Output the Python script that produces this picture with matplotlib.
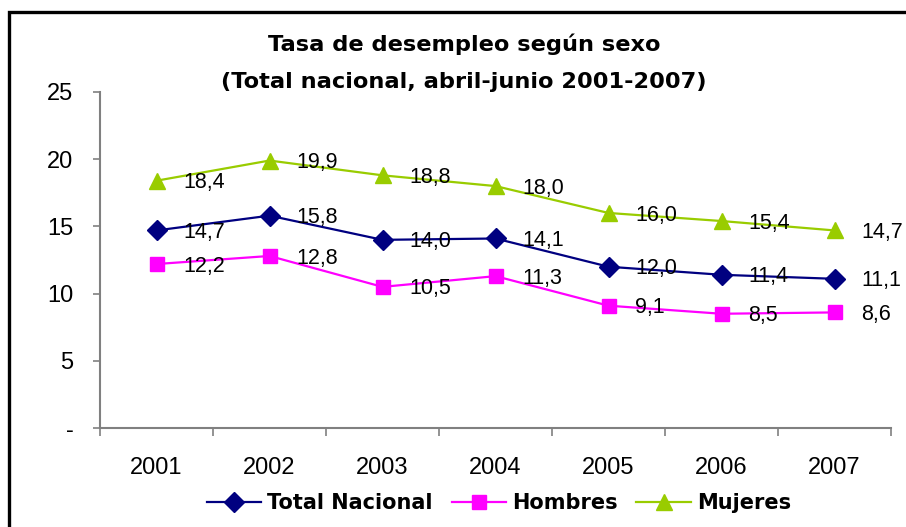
import matplotlib
matplotlib.use("Agg")
import matplotlib.pyplot as plt
from matplotlib.patches import Rectangle
import numpy as np

plt.rcParams["font.family"] = ["Liberation Sans", "DejaVu Sans"]

# ─── Datos ───────────────────────────────────────────────────────────────────
years = ["2001", "2002", "2003", "2004", "2005", "2006", "2007"]
total_nacional = [14.7, 15.8, 14.0, 14.1, 12.0, 11.4, 11.1]
hombres = [12.2, 12.8, 10.5, 11.3, 9.1, 8.5, 8.6]
mujeres = [18.4, 19.9, 18.8, 18.0, 16.0, 15.4, 14.7]
y_ticks = [0, 5, 10, 15, 20, 25]
y_ticklabels = ["-", "5", "10", "15", "20", "25"]

W, H = 906, 527
fig = plt.figure(figsize=(W / 100, H / 100), dpi=100)

# marco del gráfico (abierto a la derecha y abajo, recortado)
fig.patches.append(Rectangle((9 / W, -0.1), 1.2, 1.1 - 12 / H,
                             transform=fig.transFigure, fill=False,
                             edgecolor="black", linewidth=2.4))

ax = fig.add_axes([100 / W, 1 - 428 / H, 791 / W, 336 / H])
x = np.arange(len(years))

series = [
    (total_nacional, "Total Nacional", "#000080", "D", 10),
    (hombres, "Hombres", "#FF00FF", "s", 10),
    (mujeres, "Mujeres", "#99CC00", "^", 12),
]
for vals, label, color, marker, ms in series:
    ax.plot(x, vals, color=color, linewidth=1.6, marker=marker,
            markersize=ms, markeredgecolor=color, label=label, zorder=3)
    for xi, v in zip(x, vals):
        ax.annotate(f"{v:.1f}".replace(".", ","), (xi, v),
                    xytext=(19, -1.5), textcoords="offset points",
                    ha="left", va="center", fontsize=15.5, color="black",
                    zorder=4)

ax.set_xlim(-0.5, len(years) - 0.5)
ax.set_ylim(0, 25)
ax.set_yticks(y_ticks)
ax.set_yticklabels(y_ticklabels, fontsize=17)
ax.set_xticks(x)
ax.set_xticklabels(years, fontsize=17)
ax.set_xticks(np.arange(-0.5, len(years)), minor=True)
ax.tick_params(axis="x", which="major", length=0, pad=21)
ax.tick_params(axis="x", which="minor", length=5.5, width=1.2, color="#808080")
ax.tick_params(axis="y", length=5, width=1.2, color="#808080", pad=14)

for side in ["top", "right"]:
    ax.spines[side].set_visible(False)
for side in ["left", "bottom"]:
    ax.spines[side].set_color("#808080")
    ax.spines[side].set_linewidth(1.5)

title_font = ["DejaVu Sans"]
fig.text(464 / W, 1 - 44 / H, "Tasa de desempleo según sexo",
         ha="center", va="center", fontsize=16.2, fontweight="bold",
         family=title_font)
fig.text(464 / W, 1 - 82 / H, "(Total nacional, abril-junio 2001-2007)",
         ha="center", va="center", fontsize=16.2, fontweight="bold",
         family=title_font)

fig.legend(loc="center", bbox_to_anchor=(499 / W, 1 - 503 / H),
           ncol=3, frameon=False, handlelength=2.6, columnspacing=0.9,
           handletextpad=0.3,
           prop={"size": 15, "weight": "bold", "family": "DejaVu Sans"})

fig.savefig("out.png", dpi=100)
